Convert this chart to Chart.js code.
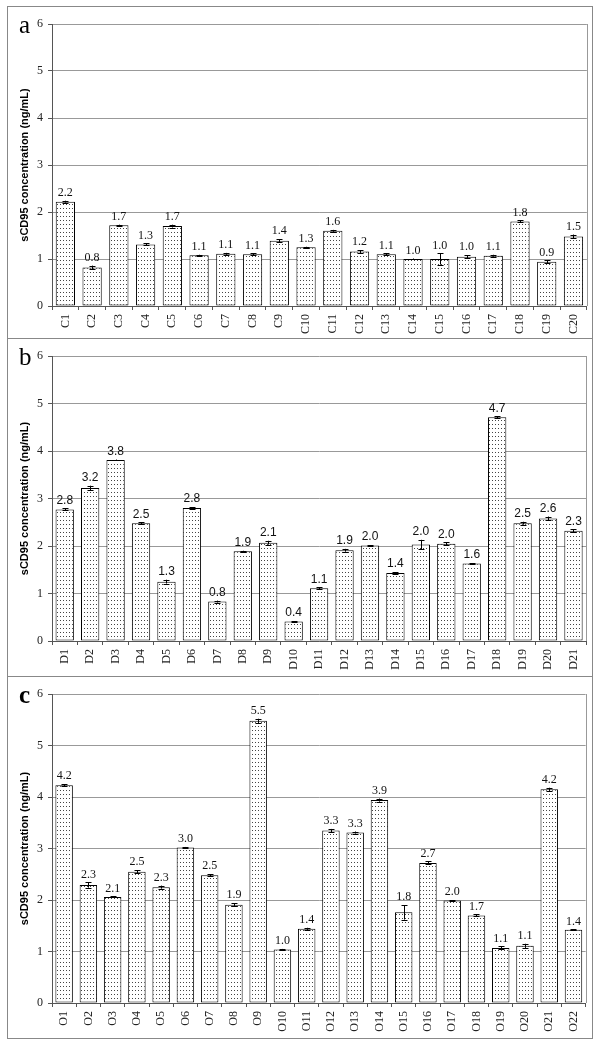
<!DOCTYPE html>
<html>
<head>
<meta charset="utf-8">
<script src="https://cdn.jsdelivr.net/npm/chart.js@4"></script>
<style>
  body { margin: 0; background: #fff; width: 600px; height: 1044px; position: relative; overflow: hidden; }
  .panel { position: absolute; left: 7px; width: 586px; border: 1px solid #888; box-sizing: border-box; }
  .panel canvas { position: absolute; left: 0; top: 0; }
  .letter { position: absolute; left: 11px; font-family: "Liberation Serif", "Times New Roman", serif; font-size: 25px; line-height: 25px; color: #000; }
</style>
</head>
<body>
<div class="panel" style="top:6px;height:333px"><canvas id="chartA" width="584" height="331"></canvas><div class="letter" style="top:5px">a</div></div>
<div class="panel" style="top:338px;height:339px"><canvas id="chartB" width="584" height="337"></canvas><div class="letter" style="top:5px">b</div></div>
<div class="panel" style="top:676px;height:363px"><canvas id="chartC" width="584" height="361"></canvas><div class="letter" style="top:5px;font-weight:bold">c</div></div>
<script>
// === panel a ===
const labelsA = ["C1","C2","C3","C4","C5","C6","C7","C8","C9","C10","C11","C12","C13","C14","C15","C16","C17","C18","C19","C20"];
const valuesA = [2.22,0.82,1.72,1.31,1.70,1.08,1.11,1.10,1.39,1.25,1.60,1.16,1.10,1.00,1.00,1.05,1.07,1.80,0.94,1.48];
const errorsA = [0.02,0.04,0.01,0.02,0.03,0.01,0.02,0.02,0.03,0.01,0.02,0.03,0.02,0.01,0.12,0.03,0.02,0.02,0.03,0.04];
const textA   = ["2.2","0.8","1.7","1.3","1.7","1.1","1.1","1.1","1.4","1.3","1.6","1.2","1.1","1.0","1.0","1.0","1.1","1.8","0.9","1.5"];

// === panel b ===
const labelsB = ["D1","D2","D3","D4","D5","D6","D7","D8","D9","D10","D11","D12","D13","D14","D15","D16","D17","D18","D19","D20","D21"];
const valuesB = [2.77,3.22,3.81,2.48,1.25,2.80,0.83,1.89,2.07,0.41,1.11,1.91,2.01,1.43,2.03,2.05,1.63,4.71,2.48,2.58,2.32];
const errorsB = [0.02,0.05,0.01,0.02,0.04,0.02,0.02,0.01,0.04,0.01,0.02,0.03,0.01,0.02,0.10,0.03,0.01,0.02,0.03,0.04,0.03];
const textB   = ["2.8","3.2","3.8","2.5","1.3","2.8","0.8","1.9","2.1","0.4","1.1","1.9","2.0","1.4","2.0","2.0","1.6","4.7","2.5","2.6","2.3"];

// === panel c ===
const labelsC = ["O1","O2","O3","O4","O5","O6","O7","O8","O9","O10","O11","O12","O13","O14","O15","O16","O17","O18","O19","O20","O21","O22"];
const valuesC = [4.23,2.29,2.06,2.55,2.25,3.02,2.48,1.91,5.48,1.04,1.44,3.35,3.31,3.94,1.76,2.72,1.99,1.70,1.07,1.11,4.15,1.42];
const errorsC = [0.02,0.05,0.01,0.03,0.03,0.01,0.02,0.03,0.04,0.01,0.02,0.03,0.02,0.03,0.14,0.03,0.01,0.02,0.03,0.04,0.03,0.01];
const textC   = ["4.2","2.3","2.1","2.5","2.3","3.0","2.5","1.9","5.5","1.0","1.4","3.3","3.3","3.9","1.8","2.7","2.0","1.7","1.1","1.1","4.2","1.4"];

const yTicks = [0, 1, 2, 3, 4, 5, 6];

const serif = "'Liberation Serif', 'Times New Roman', serif";
const sans = "'Liberation Sans', Arial, sans-serif";

// dotted fill like the excel pattern
function dotPattern(ctx) {
  const tile = document.createElement('canvas');
  tile.width = 3; tile.height = 4;
  const t = tile.getContext('2d');
  t.fillStyle = '#fff';
  t.fillRect(0, 0, 3, 4);
  t.fillStyle = '#444';
  t.fillRect(1, 1, 1, 1);
  return ctx.createPattern(tile, 'repeat');
}

const plotFrame = {
  id: 'plotFrame',
  beforeDatasetsDraw(chart) {
    const { ctx, chartArea: a } = chart;
    ctx.save();
    ctx.strokeStyle = '#999';
    ctx.lineWidth = 1;
    ctx.beginPath();
    ctx.moveTo(Math.round(a.right) + 0.5, a.top);
    ctx.lineTo(Math.round(a.right) + 0.5, a.bottom);
    ctx.stroke();
    ctx.restore();
  }
};

const errorBars = {
  id: 'errorBars',
  afterDatasetsDraw(chart, args, opts) {
    const { ctx, scales: { y } } = chart;
    const meta = chart.getDatasetMeta(0);
    const vals = chart.data.datasets[0].data;
    ctx.save();
    ctx.strokeStyle = '#000';
    ctx.lineWidth = 1;
    meta.data.forEach((bar, i) => {
      const x = Math.round(bar.x) + 0.5;
      const top = y.getPixelForValue(vals[i] + opts.errors[i]);
      const bot = y.getPixelForValue(vals[i] - opts.errors[i]);
      ctx.beginPath();
      ctx.moveTo(x, top); ctx.lineTo(x, bot);
      ctx.moveTo(x - 3, Math.round(top) + 0.5); ctx.lineTo(x + 3, Math.round(top) + 0.5);
      ctx.moveTo(x - 3, Math.round(bot) + 0.5); ctx.lineTo(x + 3, Math.round(bot) + 0.5);
      ctx.stroke();
      ctx.fillStyle = '#111';
      ctx.font = opts.font;
      ctx.textAlign = 'center';
      ctx.textBaseline = 'bottom';
      ctx.fillText(opts.text[i], bar.x, top - 2);
    });
    ctx.restore();
  }
};

function makeChart(id, labels, values, errors, text, valueFont, axisH) {
  const ctx = document.getElementById(id).getContext('2d');
  return new Chart(ctx, {
    type: 'bar',
    data: {
      labels: labels,
      datasets: [{
        data: values,
        backgroundColor: dotPattern(ctx),
        borderColor: '#000',
        borderWidth: 1,
        borderSkipped: false,
        barPercentage: 0.72,
        categoryPercentage: 1
      }]
    },
    options: {
      responsive: false,
      animation: false,
      devicePixelRatio: 1,
      layout: { padding: { top: 17, right: 5, left: 0, bottom: 0 } },
      plugins: {
        legend: { display: false },
        tooltip: { enabled: false },
        errorBars: { errors: errors, text: text, font: valueFont }
      },
      scales: {
        x: {
          grid: { drawOnChartArea: false, drawTicks: true, tickLength: 4, tickColor: '#555', offset: true },
          border: { color: '#555' },
          ticks: { minRotation: 90, maxRotation: 90, padding: 4, color: '#222', font: { family: serif, size: 12 } },
          afterFit(scale) { scale.height = axisH; }
        },
        y: {
          min: 0, max: 6,
          afterBuildTicks(scale) { scale.ticks = yTicks.map(v => ({ value: v })); },
          grid: { color: '#999', tickColor: '#555', tickLength: 4 },
          border: { color: '#555' },
          ticks: { padding: 5, color: '#222', font: { family: serif, size: 12 } },
          title: {
            display: true,
            text: 'sCD95 concentration (ng/mL)',
            color: '#000',
            font: { family: sans, size: 11, weight: 'bold' },
            padding: { top: 10, bottom: 0 }
          },
          afterFit(scale) { scale.width = 44; }
        }
      }
    },
    plugins: [plotFrame, errorBars]
  });
}

makeChart('chartA', labelsA, valuesA, errorsA, textA, '12px ' + serif, 32);
makeChart('chartB', labelsB, valuesB, errorsB, textB, '12px ' + sans, 35);
makeChart('chartC', labelsC, valuesC, errorsC, textC, '12px ' + serif, 35);
</script>
</body>
</html>
